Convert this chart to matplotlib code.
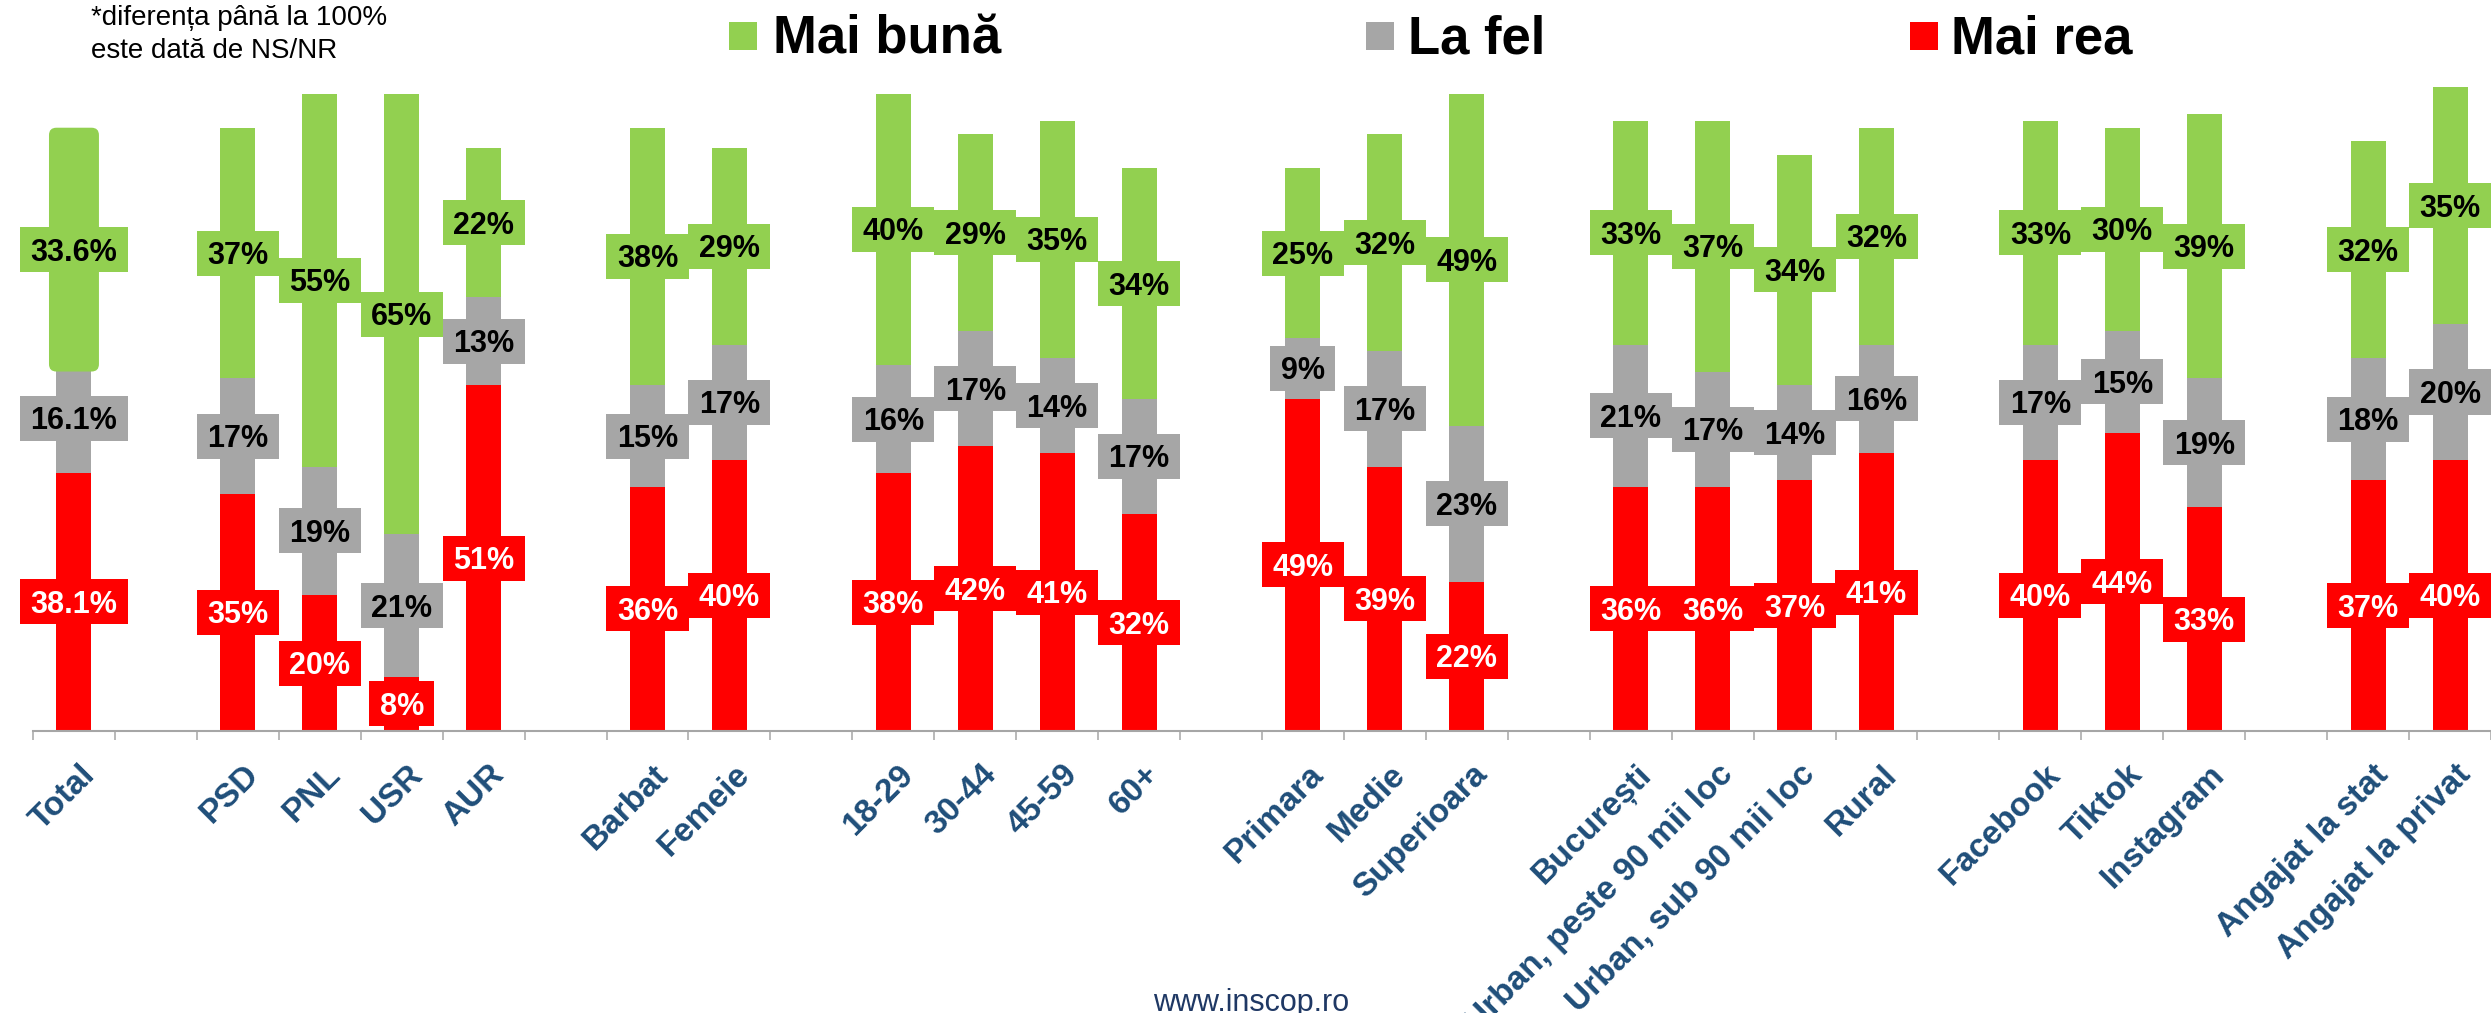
import matplotlib
matplotlib.use("Agg")
import matplotlib.pyplot as plt
from matplotlib.patches import Rectangle, FancyBboxPatch
from matplotlib.transforms import blended_transform_factory, ScaledTranslation

# ---------------- data ----------------
categories = ["Total",
              "PSD", "PNL", "USR", "AUR",
              "Barbat", "Femeie",
              "18-29", "30-44", "45-59", "60+",
              "Primara", "Medie", "Superioara",
              "București", "Urban, peste 90 mii loc", "Urban, sub 90 mii loc", "Rural",
              "Facebook", "Tiktok", "Instagram",
              "Angajat la stat", "Angajat la privat"]
group_sizes = [1, 4, 2, 4, 3, 4, 3, 2]

mai_rea  = [38.1, 35, 20, 8, 51, 36, 40, 38, 42, 41, 32, 49, 39, 22, 36, 36, 37, 41, 40, 44, 33, 37, 40]
la_fel   = [16.1, 17, 19, 21, 13, 15, 17, 16, 17, 14, 17, 9, 17, 23, 21, 17, 14, 16, 17, 15, 19, 18, 20]
mai_buna = [33.6, 37, 55, 65, 22, 38, 29, 40, 29, 35, 34, 25, 32, 49, 33, 37, 34, 32, 33, 30, 39, 32, 35]

series_names = ["Mai bună", "La fel", "Mai rea"]
note_lines = ["*diferența până la 100%", "este dată de NS/NR"]
footer = "www.inscop.ro"

# ---------------- style ----------------
GREEN = "#92D050"
GRAY = "#A6A6A6"
RED = "#FF0000"
BLUE = "#1F4E79"
plt.rcParams["font.family"] = ["Liberation Sans", "DejaVu Sans"]

W, H, DPI = 2491, 1013, 100
fig = plt.figure(figsize=(W / DPI, H / DPI), dpi=DPI)

# axes placement (pixels)
ax_left_px, base_px, top_px = 33, 731, 53
slot_px = 82.0
ax = fig.add_axes([ax_left_px / W, (H - base_px) / H, 1 - ax_left_px / W, (base_px - top_px) / H])
n_slots_visible = (W - ax_left_px) / slot_px
ax.set_xlim(-0.5, -0.5 + n_slots_visible)
ax.set_ylim(0, 100)

# slot positions with one-slot gaps between groups
positions = []
pos = 0
for g in group_sizes:
    for _ in range(g):
        positions.append(pos)
        pos += 1
    pos += 1
n_slots = positions[-1] + 1

bar_w = 35 / slot_px
bottom_gray = [r for r in mai_rea]
bottom_green = [r + f for r, f in zip(mai_rea, la_fel)]

ax.bar(positions, mai_rea, width=bar_w, color=RED, zorder=2, linewidth=0)
ax.bar(positions, la_fel, width=bar_w, bottom=bottom_gray, color=GRAY, zorder=2, linewidth=0)
for i, (x, b, v) in enumerate(zip(positions, bottom_green, mai_buna)):
    if categories[i] == "Total":
        # highlighted rounded segment
        px_y = (base_px - top_px) / 100.0
        padx = 7.5 / slot_px
        pady = 8 / px_y
        ax.add_patch(FancyBboxPatch((x - bar_w / 2 - padx, b - pady), bar_w + 2 * padx, v + 2 * pady,
                                    boxstyle="round,pad=0,rounding_size=0.09",
                                    mutation_aspect=slot_px / px_y,
                                    facecolor=GREEN, edgecolor="none", zorder=3))
    else:
        ax.bar([x], [v], width=bar_w, bottom=[b], color=GREEN, zorder=2, linewidth=0)

# axes decorations
for s in ["left", "right", "top"]:
    ax.spines[s].set_visible(False)
ax.spines["bottom"].set_color(GRAY)
ax.spines["bottom"].set_linewidth(1.5)
ax.set_yticks([])
ax.set_xticks([k - 0.5 for k in range(n_slots + 1)])
ax.set_xticklabels([])
ax.tick_params(axis="x", direction="out", length=6.5, width=1.1, color=GRAY)

# value labels
lab_fs = 22
texts = []
for i, x in enumerate(positions):
    segs = [(mai_rea[i] / 2, mai_rea[i], RED, "white"),
            (bottom_gray[i] + la_fel[i] / 2, la_fel[i], GRAY, "black"),
            (bottom_green[i] + mai_buna[i] / 2, mai_buna[i], GREEN, "black")]
    for yc, v, fc, tc in segs:
        tr = ax.transData + ScaledTranslation(0, -11 / DPI, fig.dpi_scale_trans)
        t = ax.text(x, yc, f"{v:g}%", transform=tr, ha="center", va="baseline",
                    fontsize=lab_fs, fontweight="bold", color=tc, zorder=6, clip_on=False)
        texts.append((t, x, yc, fc))

fig.canvas.draw()
renderer = fig.canvas.get_renderer()
x_px_unit = ax.transData.transform((1, 0))[0] - ax.transData.transform((0, 0))[0]
y_px_unit = ax.transData.transform((0, 1))[1] - ax.transData.transform((0, 0))[1]
for t, x, yc, fc in texts:
    bb = t.get_window_extent(renderer)
    wd = (bb.width + 21) / x_px_unit
    hd = 45 / y_px_unit
    ax.add_patch(Rectangle((x - wd / 2, yc - hd / 2), wd, hd, facecolor=fc, edgecolor="none",
                           zorder=5, clip_on=False))

# category labels
trans = blended_transform_factory(ax.transData, ax.transAxes) + \
    ScaledTranslation(5 / DPI, -28 / DPI, fig.dpi_scale_trans)
for x, c in zip(positions, categories):
    ax.text(x, 0, c, transform=trans, rotation=45, rotation_mode="anchor", ha="right", va="top",
            fontsize=24, fontweight="bold", color=BLUE, clip_on=False)

# legend (manual, figure pixels)
def fx(px):
    return px / W

def fy(py):
    return 1 - py / H

leg = [(GREEN, 729, 773, series_names[0]), (GRAY, 1366, 1408, series_names[1]), (RED, 1910, 1951, series_names[2])]
for col, sx, tx, name in leg:
    fig.add_artist(Rectangle((fx(sx), fy(50)), 28 / W, 28 / H, transform=fig.transFigure,
                             facecolor=col, edgecolor="none"))
    fig.text(fx(tx), fy(53), name, fontsize=38, fontweight="bold", color="black",
             ha="left", va="baseline")

# note
fig.text(fx(91), fy(25), note_lines[0], fontsize=20, color="black", ha="left", va="baseline")
fig.text(fx(91), fy(58), note_lines[1], fontsize=20, color="black", ha="left", va="baseline")

# footer
fig.text(fx(1251), fy(1011), footer, fontsize=22, color="#1F3864", ha="center", va="baseline")

fig.savefig("out.png", dpi=DPI)
